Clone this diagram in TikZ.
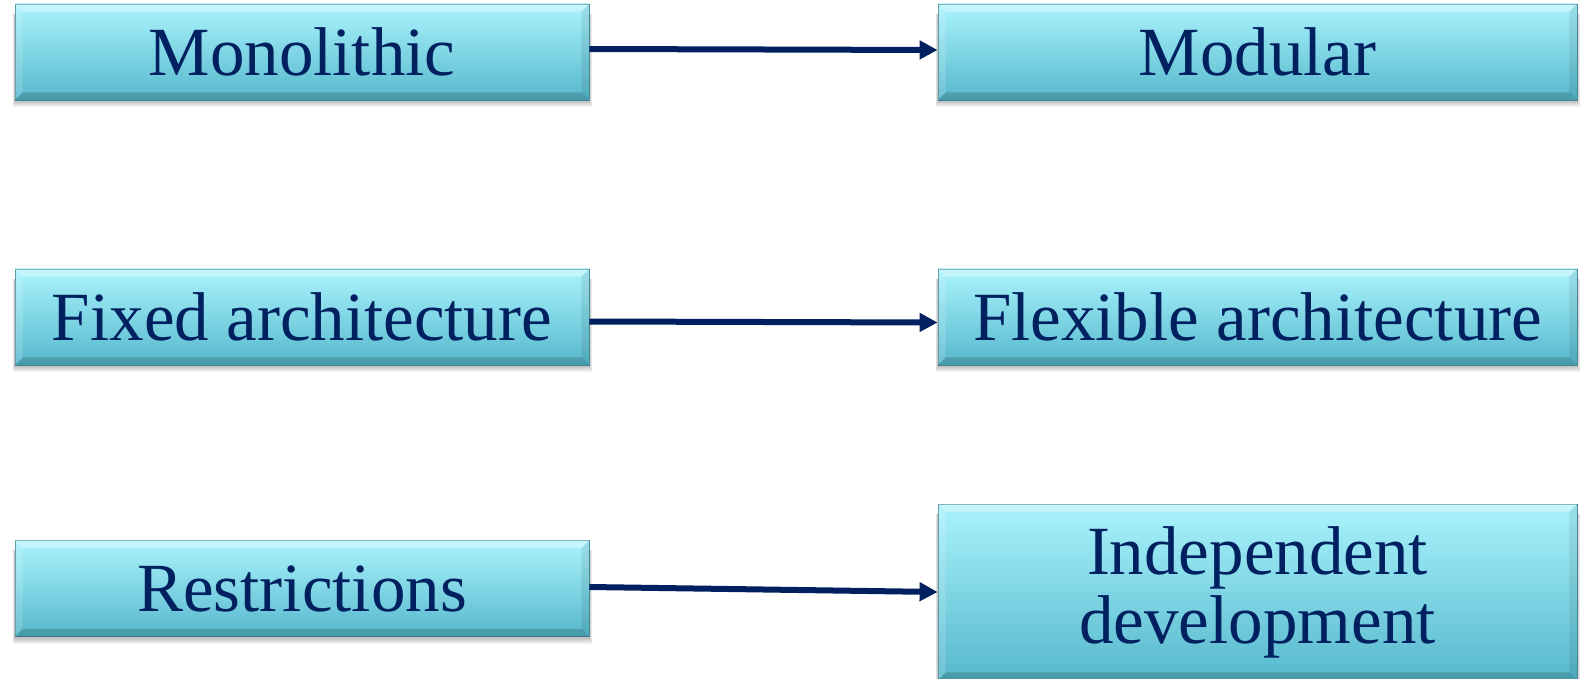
\documentclass[tikz,border=0pt]{standalone}
\usepackage{fontspec}
\setmainfont{Liberation Serif}
\usetikzlibrary{arrows.meta,backgrounds}

\definecolor{navy}{RGB}{0,32,96}
\definecolor{boxtop}{RGB}{170,243,253}
\definecolor{boxbot}{RGB}{86,184,204}
\definecolor{boxedge}{RGB}{70,140,155}

\tikzset{
  panel/.style={top color=boxtop, bottom color=boxbot, draw=boxedge, line width=0.8pt,
    inner sep=0pt, text=navy, align=center,
    font=\fontsize{69}{69}\selectfont},
  link/.style={draw=navy, line width=6pt, -{Triangle[length=18pt,width=18pt]}}
}

\begin{document}
\begin{tikzpicture}[x=1pt,y=-1pt]
  \useasboundingbox (0,0) rectangle (1580,679);

  % left column
  \node[panel, minimum width=574pt, minimum height=96pt] (mono) at (302,52) {Monolithic};
  \node[panel, minimum width=574pt, minimum height=96pt] (fixd) at (302,317) {Fixed architecture};
  \node[panel, minimum width=574pt, minimum height=96pt] (rest) at (302,588.5) {Restrictions};

  % right column
  \node[panel, minimum width=639pt, minimum height=96pt] (modu) at (1257.5,52) {Modular};
  \node[panel, minimum width=639pt, minimum height=96pt] (flex) at (1257.5,317) {Flexible architecture};
  \node[panel, minimum width=639pt, minimum height=176pt] (inde) at (1257.5,592) {Independent\\development};

  % bevelled edges of every box
  \foreach \n in {mono,fixd,rest,modu,flex,inde}{
    \fill[white,opacity=0.35] (\n.north west) -- (\n.north east)
      -- ([xshift=-8pt,yshift=-8pt]\n.north east) -- ([xshift=8pt,yshift=-8pt]\n.north west) -- cycle;
    \fill[white,opacity=0.15] (\n.north west) -- ([xshift=8pt,yshift=-8pt]\n.north west)
      -- ([xshift=8pt,yshift=8pt]\n.south west) -- (\n.south west) -- cycle;
    \fill[black,opacity=0.08] (\n.north east) -- (\n.south east)
      -- ([xshift=-8pt,yshift=8pt]\n.south east) -- ([xshift=-8pt,yshift=-8pt]\n.north east) -- cycle;
    \fill[black,opacity=0.16] (\n.south west) -- (\n.south east)
      -- ([xshift=-8pt,yshift=8pt]\n.south east) -- ([xshift=8pt,yshift=8pt]\n.south west) -- cycle;
  }

  % soft shadows under the boxes
  \begin{pgfonlayer}{background}
    \foreach \n in {mono,fixd,rest,modu,flex,inde}{
      \foreach \k in {1,...,6}{
        \fill[black,opacity=0.045]
          ([xshift={-0.3pt*\k},yshift={-1pt-1pt*\k}]\n.south west)
          rectangle ([xshift={0.5pt*\k},yshift=-10pt]\n.north east);
      }
    }
  \end{pgfonlayer}

  % connectors
  \draw[link] ([yshift=3pt]mono.east) -- ([yshift=2pt]modu.west);
  \draw[link] ([yshift=-4.5pt]fixd.east) -- ([yshift=-5.5pt]flex.west);
  \draw[link] ([yshift=1.5pt]rest.east) -- (inde.west);
\end{tikzpicture}
\end{document}
